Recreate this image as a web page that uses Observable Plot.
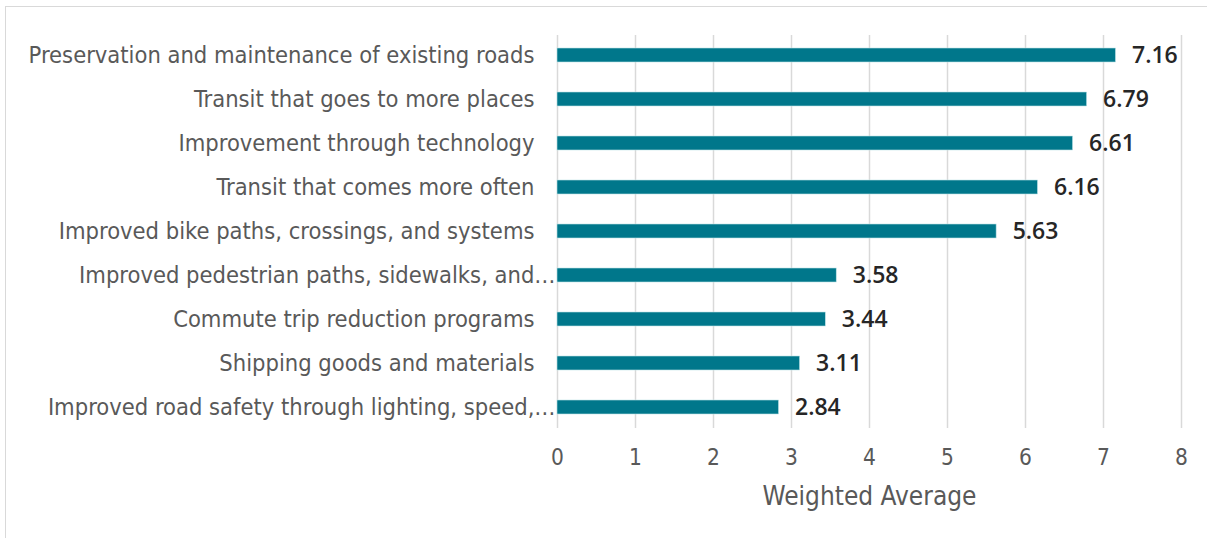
<!DOCTYPE html>
<html>
<head>
<meta charset="utf-8">
<script src="https://cdn.jsdelivr.net/npm/d3@7"></script>
<script src="https://cdn.jsdelivr.net/npm/@observablehq/plot@0.6"></script>
<style>
  html, body { margin: 0; padding: 0; background: #fff; }
  #wrap { position: relative; width: 1207px; height: 538px; overflow: hidden; }
  #frame { position: absolute; left: 5px; top: 6px; width: 1210px; height: 540px;
           border-left: 1.5px solid #d9d9d9; border-top: 1.5px solid #d9d9d9; }
  #chart { position: absolute; left: 0; top: 0; }
</style>
</head>
<body>
<div id="wrap"><div id="frame"></div><div id="chart"></div></div>
<script>
const categories = [
  "Preservation and maintenance of existing roads",
  "Transit that goes to more places",
  "Improvement through technology",
  "Transit that comes more often",
  "Improved bike paths, crossings, and systems",
  "Improved pedestrian paths, sidewalks, and…",
  "Commute trip reduction programs",
  "Shipping goods and materials",
  "Improved road safety through lighting, speed,…"
];
const values = [7.16, 6.79, 6.61, 6.16, 5.63, 3.58, 3.44, 3.11, 2.84];
const xTicks = [0, 1, 2, 3, 4, 5, 6, 7, 8];
const xLabel = "Weighted Average";

const data = categories.map((c, i) => ({category: c, value: values[i]}));
const labelFont = "'DejaVu Sans Condensed', 'DejaVu Sans', sans-serif";

const chart = Plot.plot({
  width: 1207,
  height: 538,
  marginLeft: 557,
  marginRight: 26,
  marginTop: 35,
  marginBottom: 110,
  style: {fontFamily: labelFont, background: "transparent"},
  x: {domain: [0, 8], ticks: xTicks, label: null},
  y: {domain: categories, paddingInner: 0.68, paddingOuter: 0.3, label: null, axis: null},
  marks: [
    Plot.gridX(xTicks, {stroke: "#d9d9d9", strokeOpacity: 1, strokeWidth: 1.5}),
    Plot.barX(data, {y: "category", x: "value", fill: "#00778b", stroke: "#bfe3e8", strokeWidth: 0.6}),
    Plot.text(data, {
      y: "category", x: 0, text: "category", textAnchor: "end",
      dx: -23, fontSize: 23.5, fill: "#595959", fontFamily: labelFont,
      filter: d => !d.category.endsWith("…")
    }),
    Plot.text(data, {
      y: "category", x: 0, text: "category", textAnchor: "end",
      dx: -2, fontSize: 23.5, fill: "#595959", fontFamily: labelFont,
      filter: d => d.category.endsWith("…")
    }),
    Plot.text(data, {
      y: "category", x: "value", text: d => d.value.toFixed(2), textAnchor: "start",
      dx: 16, fontSize: 23, fontWeight: 600, fill: "#262626",
      fontFamily: "'Open Sans', sans-serif"
    }),
    Plot.axisX(xTicks, {
      tickSize: 0, tickPadding: 21, fontSize: 22.5, fill: "#595959", label: null,
      fontFamily: labelFont
    }),
    Plot.text([xLabel], {
      frameAnchor: "bottom", dy: 76, text: d => d, fontSize: 26, fill: "#595959",
      fontFamily: labelFont
    })
  ]
});
document.getElementById("chart").append(chart);
</script>
</body>
</html>
